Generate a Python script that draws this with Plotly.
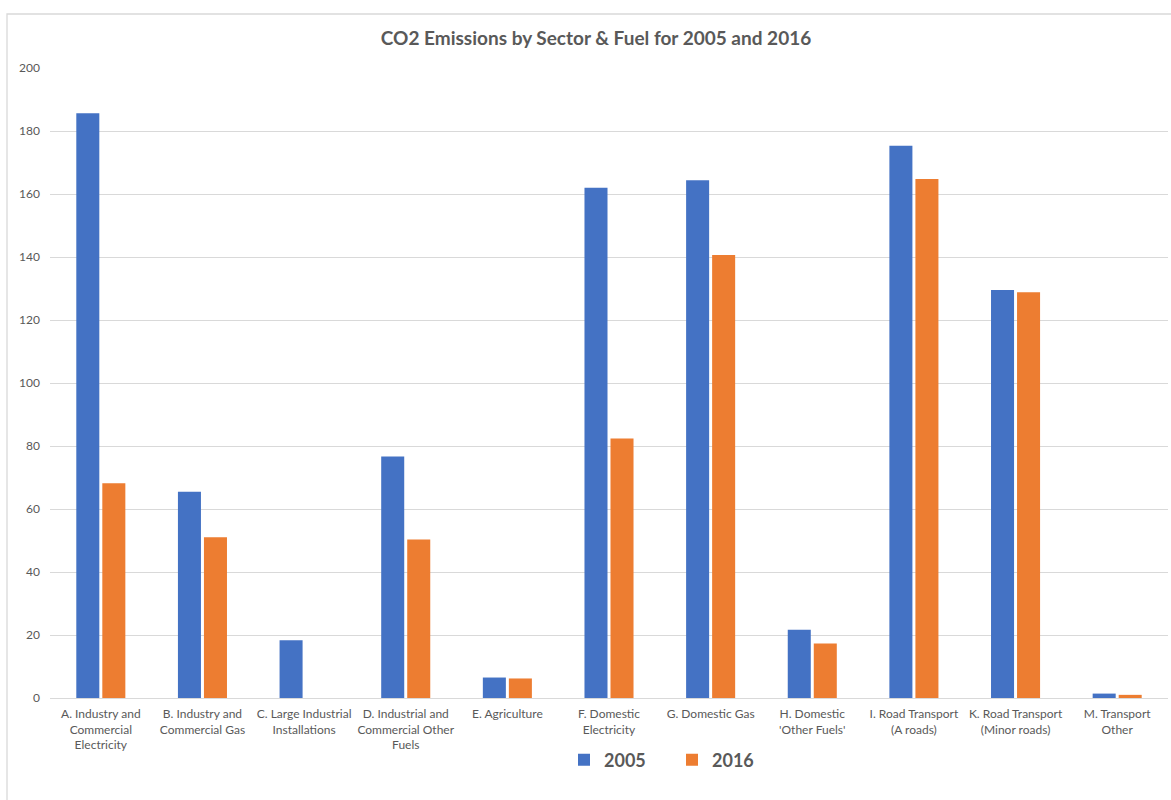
import plotly.graph_objects as go

categories = [
    "A. Industry and<br>Commercial<br>Electricity",
    "B. Industry and<br>Commercial Gas",
    "C. Large Industrial<br>Installations",
    "D. Industrial and<br>Commercial Other<br>Fuels",
    "E. Agriculture",
    "F. Domestic<br>Electricity",
    "G. Domestic Gas",
    "H. Domestic<br>'Other Fuels'",
    "I. Road Transport<br>(A roads)",
    "K. Road Transport<br>(Minor roads)",
    "M. Transport<br>Other",
]
values_2005 = [185.6, 65.5, 18.3, 76.7, 6.5, 162.0, 164.4, 21.7, 175.3, 129.5, 1.4]
values_2016 = [68.2, 51.0, 0, 50.3, 6.2, 82.4, 140.6, 17.3, 164.8, 128.8, 1.0]
y_ticks = [0, 20, 40, 60, 80, 100, 120, 140, 160, 180, 200]

FONT = "Lato"
GRAY = "#595959"

fig = go.Figure()
fig.add_trace(go.Bar(x=categories, y=values_2005, name="2005",
                     marker=dict(color="#4472C4", line=dict(width=0))))
fig.add_trace(go.Bar(x=categories, y=values_2016, name="2016",
                     marker=dict(color="#ED7D31", line=dict(width=0))))

W, H = 1171, 800
L, R, T, B = 50, 3, 68, 102
pw = W - L - R
ph = H - T - B

def px_x(p):
    return (p - L) / pw

def px_y(p):
    return (H - B - p) / ph

fig.update_layout(
    width=W, height=H,
    margin=dict(l=L, r=R, t=T, b=B),
    paper_bgcolor="white", plot_bgcolor="white",
    barmode="group", bargap=0.488, bargroupgap=0.115,
    font=dict(family=FONT, color=GRAY, size=12),
    title=dict(text="CO2 Emissions by Sector & Fuel for 2005 and 2016",
               font=dict(family=FONT, size=19, color=GRAY, weight="bold"),
               x=px_x(596), xref="paper", xanchor="center",
               y=1 - 38 / H, yanchor="middle"),
    legend=dict(orientation="h", x=px_x(564), y=px_y(760), xanchor="left",
                yanchor="middle", font=dict(family=FONT, size=18, color=GRAY, weight="bold"),
                entrywidth=63, entrywidthmode="pixels", bgcolor="rgba(0,0,0,0)"),
    xaxis=dict(showgrid=False, showline=False, ticks="", ticklabelstandoff=7,
               tickfont=dict(family=FONT, size=12, color=GRAY), tickangle=0),
    yaxis=dict(range=[0, 200], tickvals=y_ticks, showgrid=True, gridcolor="#d9d9d9",
               gridwidth=1, zeroline=True, zerolinecolor="#d9d9d9", zerolinewidth=1,
               showline=False, ticks="", ticklabelstandoff=9,
               tickfont=dict(family=FONT, size=12, color=GRAY)),
    shapes=[dict(type="rect", xref="paper", yref="paper",
                 x0=px_x(7), x1=px_x(1200), y0=px_y(830), y1=px_y(14),
                 line=dict(color="#d9d9d9", width=1.3), fillcolor="rgba(0,0,0,0)",
                 layer="below")],
)

fig.write_html("out.html")
